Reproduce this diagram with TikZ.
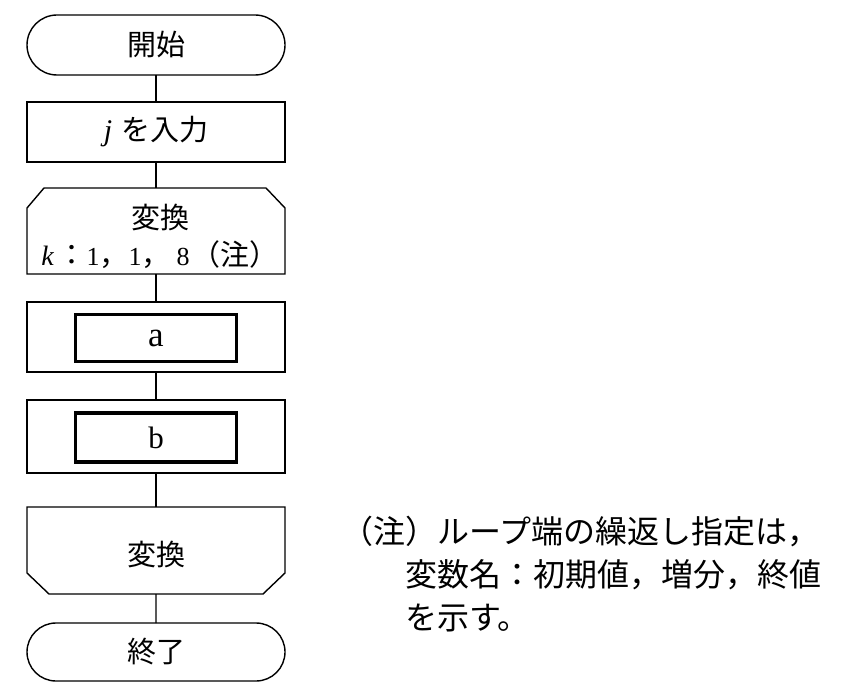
\documentclass[tikz,border=0pt]{standalone}
\usepackage{fontspec}
\setmainfont{Liberation Serif}
\newfontfamily\jp{Noto Sans CJK JP}
\usetikzlibrary{shapes.misc}
\begin{document}
\begin{tikzpicture}[x=1pt,y=-1pt,
  every node/.style={inner sep=0pt, outer sep=0pt},
  lw/.style={line width=1.4pt},
  box/.style={draw, lw, minimum width=258pt, minimum height=#1},
  shapebox/.style={minimum width=258pt, minimum height=#1},
  term/.style={draw, lw, rounded rectangle, minimum width=258pt, minimum height=#1},
  innerbox/.style={draw, line width=3.8pt, minimum width=161pt, minimum height=#1},
  conn/.style={lw},
  ftext/.style={font=\fontsize{29}{37}\selectfont\jp, align=center},
  ntext/.style={font=\fontsize{32}{43}\selectfont\jp, align=left},
  ]
\newcommand{\lat}[2]{{\fontsize{#1}{#1}\selectfont\rmfamily #2}}
\useasboundingbox (0,0) rectangle (842,700);
% terminals and boxes
\node[term=60pt, ftext] (start) at (156,45) {開始};
\node[box=60pt, ftext] (input) at (156,132) {\lat{30}{\itshape j}\hspace{9pt}を入力};
% loop start
\node[shapebox=86pt] (ls) at (156,231) {};
\draw[lw] ([yshift=-20pt]ls.north west) -- ([xshift=17pt]ls.north west) -- ([xshift=-19pt]ls.north east) -- ([yshift=-20pt]ls.north east) -- (ls.south east) -- (ls.south west) -- cycle;
\node[ftext] (lstext) at (160,236.5) {変換\\\lat{28}{\itshape k}\hspace{4pt}：\lat{26}{1}，\lat{26}{1}，\hspace{6pt}\lat{26}{8}\hspace{2pt}（注）};
% box a
\node[box=70pt] (aout) at (156,337) {};
\node[innerbox=47pt, font=\fontsize{35}{40}\selectfont] (ain) at (156,338) {a};
% box b
\node[box=73pt] (bout) at (156,436.5) {};
\node[innerbox=49pt, font=\fontsize{31}{38}\selectfont] (bin) at (156,437.5) {b};
% loop end
\node[shapebox=87pt] (le) at (156,550.5) {};
\draw[lw] (le.north west) -- (le.north east) -- ([yshift=21pt]le.south east) -- ([xshift=-22pt]le.south east) -- ([xshift=22pt]le.south west) -- ([yshift=21pt]le.south west) -- cycle;
\node[ftext] (letext) at (156,555) {変換};
% end terminal
\node[term=58pt, ftext] (end) at (156,652) {終了};
% connectors
\draw[conn] (start) -- (input);
\draw[conn] (input) -- (ls);
\draw[conn] (ls) -- (aout);
\draw[conn] (aout) -- (bout);
\draw[conn] (bout) -- (le);
\draw[conn] (le) -- (end);
% note
\node[ntext, anchor=north west] (note) at (341,516) {（注）ループ端の繰返し指定は，\\\hspace*{64pt}変数名：初期値，増分，終値\\\hspace*{64pt}を示す。};
\end{tikzpicture}
\end{document}
